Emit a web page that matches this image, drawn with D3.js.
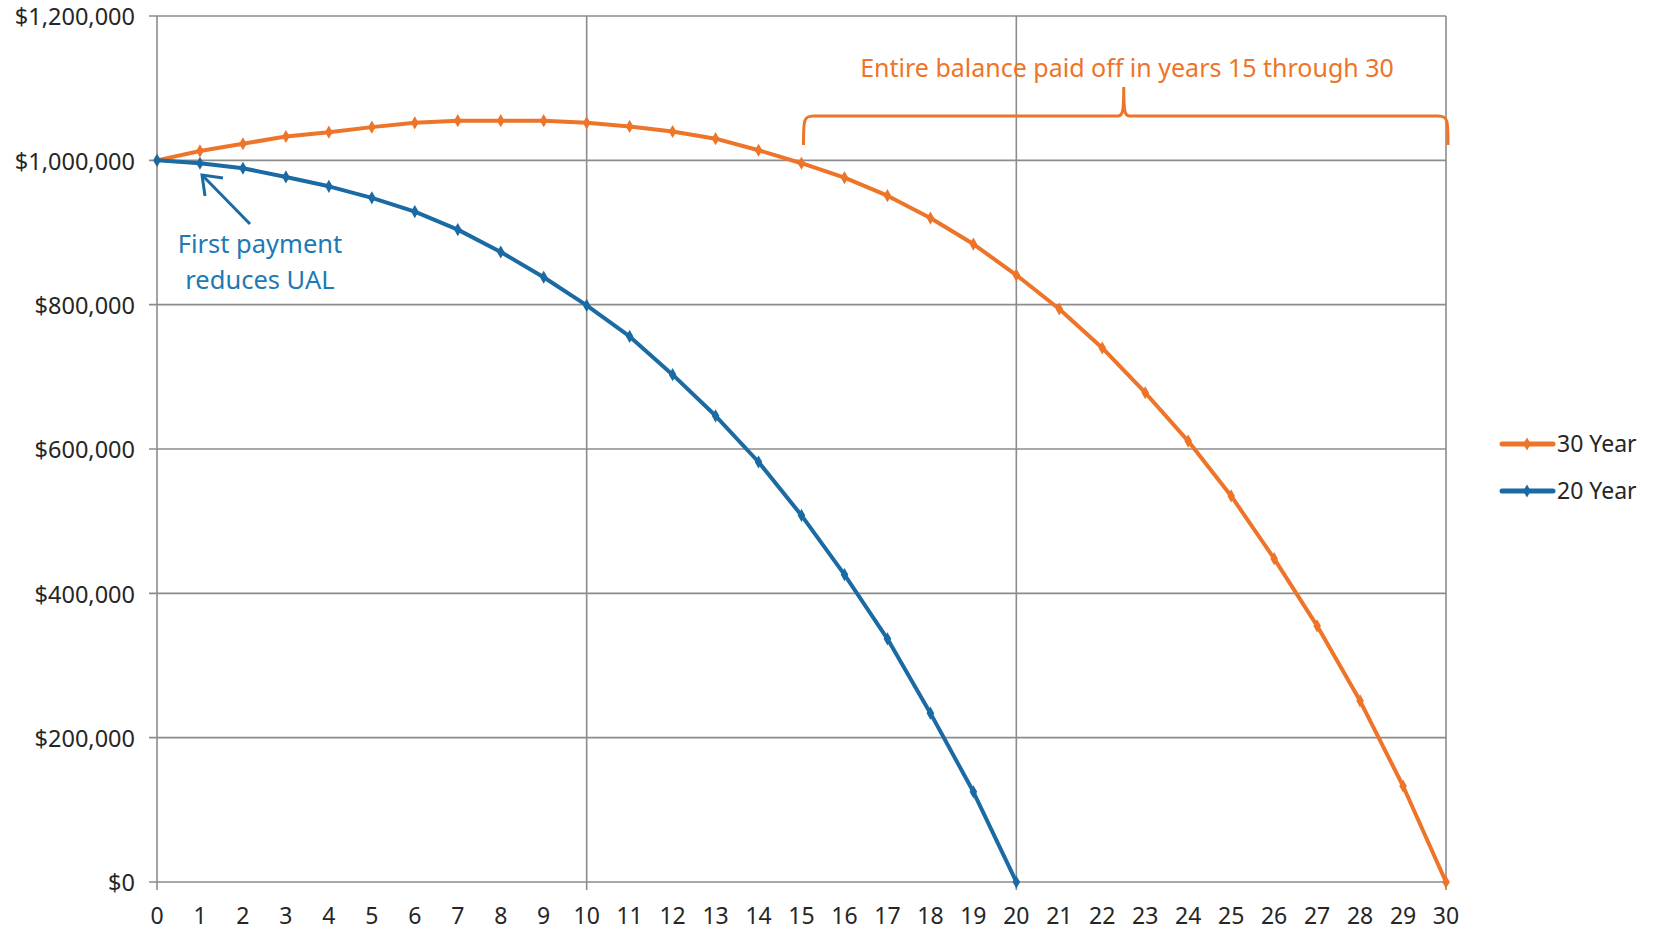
<!DOCTYPE html>
<html>
<head>
<meta charset="utf-8">
<script src="https://cdn.jsdelivr.net/npm/d3@7"></script>
<style>
  html, body { margin: 0; padding: 0; background: #fff; }
  #chart { width: 1657px; height: 931px; }
  text { font-family: "Noto Sans", "Open Sans", sans-serif; }
</style>
</head>
<body>
<div id="chart"></div>
<script>
// ------------------------------------------------------------------ DATA
const years = d3.range(0, 31);
const yTicks = [0, 200000, 400000, 600000, 800000, 1000000, 1200000];
const xGridYears = [10, 20, 30];

const thirtyYear = [
  1000000, 1013000, 1023000, 1033000, 1039000, 1046000, 1052000, 1055000,
  1055000, 1055000, 1052000, 1047000, 1040000, 1030000, 1014000, 996000,
  976000, 951000, 920000, 884000, 841000, 794000, 740000, 678000,
  611000, 535000, 448000, 355000, 251000, 133000, 0
];
const twentyYear = [
  1000000, 996000, 989000, 977000, 964000, 948000, 929000, 904000,
  873000, 838000, 799000, 756000, 703000, 646000, 582000, 508000,
  426000, 337000, 234000, 125000, 0
];

const seriesNames = ['30 Year', '20 Year'];
const seriesColors = ['#ED7428', '#1A6AA3'];

// ------------------------------------------------------------------ LAYOUT
const width = 1657, height = 931;
const margin = { top: 16, right: 211, bottom: 49, left: 157 };

const svg = d3.select('#chart').append('svg')
  .attr('width', width)
  .attr('height', height);

const x = d3.scaleLinear().domain([0, 30]).range([margin.left, width - margin.right]);
const y = d3.scaleLinear().domain([0, 1200000]).range([height - margin.bottom, margin.top]);

const gridColor = '#8c8c8c';
const textColor = '#262626';

// ------------------------------------------------------------------ GRID
svg.append('g')
  .selectAll('line')
  .data(yTicks)
  .join('line')
  .attr('x1', x(0) - 8).attr('x2', x(30))
  .attr('y1', d => y(d)).attr('y2', d => y(d))
  .attr('stroke', gridColor)
  .attr('stroke-width', 1.6);

svg.append('g')
  .selectAll('line')
  .data([0].concat(xGridYears))
  .join('line')
  .attr('x1', d => x(d)).attr('x2', d => x(d))
  .attr('y1', y(1200000)).attr('y2', y(0) + 8)
  .attr('stroke', gridColor)
  .attr('stroke-width', 1.6);

// ------------------------------------------------------------------ AXES LABELS
const yFmt = d => '$' + d3.format(',')(d);
svg.append('g')
  .selectAll('text')
  .data(yTicks)
  .join('text')
  .attr('x', x(0) - 22)
  .attr('y', d => y(d))
  .attr('dy', '0.4em')
  .attr('text-anchor', 'end')
  .attr('font-size', 23.5)
  .attr('fill', textColor)
  .text(yFmt);

svg.append('g')
  .selectAll('text')
  .data(years)
  .join('text')
  .attr('x', d => x(d))
  .attr('y', y(0) + 34)
  .attr('dy', '0.35em')
  .attr('text-anchor', 'middle')
  .attr('font-size', 23)
  .attr('fill', textColor)
  .text(d => d);

// ------------------------------------------------------------------ SERIES
const allSeries = [thirtyYear, twentyYear];
const line = d3.line()
  .x((d, i) => x(i))
  .y(d => y(d));

allSeries.forEach((vals, k) => {
  const g = svg.append('g');
  g.append('path')
    .datum(vals)
    .attr('d', line)
    .attr('fill', 'none')
    .attr('stroke', seriesColors[k])
    .attr('stroke-width', 4)
    .attr('stroke-linejoin', 'round')
    .attr('stroke-linecap', 'round');
  g.selectAll('path.mk')
    .data(vals)
    .join('path')
    .attr('class', 'mk')
    .attr('d', d3.symbol().type(d3.symbolDiamond).size(50))
    .attr('transform', (d, i) => `translate(${x(i)},${y(d)})`)
    .attr('fill', seriesColors[k]);
});

// ------------------------------------------------------------------ LEGEND
const legend = svg.append('g');
seriesNames.forEach((name, k) => {
  const ly = 444 + k * 47;
  legend.append('line')
    .attr('x1', 1502).attr('x2', 1553)
    .attr('y1', ly).attr('y2', ly)
    .attr('stroke', seriesColors[k])
    .attr('stroke-width', 5)
    .attr('stroke-linecap', 'round');
  legend.append('path')
    .attr('d', d3.symbol().type(d3.symbolDiamond).size(50))
    .attr('transform', `translate(${1527},${ly})`)
    .attr('fill', seriesColors[k]);
  legend.append('text')
    .attr('x', 1557)
    .attr('y', ly)
    .attr('dy', '0.35em')
    .attr('font-size', 23)
    .attr('fill', textColor)
    .text(name);
});

// ------------------------------------------------------------------ ANNOTATIONS
// brace over years 15-30
const braceY = 116, braceTop = 87, braceBot = 145;
const bx0 = x(15) + 2, bx1 = x(30) + 2, bxm = x(22.5);
const orange = seriesColors[0], blue = seriesColors[1];
svg.append('path')
  .attr('d', `M${bx0},${braceBot} C${bx0},${braceY + 4} ${bx0},${braceY} ${bx0 + 10},${braceY}
              L${bxm - 6},${braceY} C${bxm - 1},${braceY} ${bxm},${braceY - 4} ${bxm},${braceTop}
              C${bxm},${braceY - 4} ${bxm + 1},${braceY} ${bxm + 6},${braceY}
              L${bx1 - 10},${braceY} C${bx1},${braceY} ${bx1},${braceY + 4} ${bx1},${braceBot}`)
  .attr('fill', 'none')
  .attr('stroke', orange)
  .attr('stroke-width', 3);

svg.append('text')
  .attr('x', 1127)
  .attr('y', 68)
  .attr('dy', '0.35em')
  .attr('text-anchor', 'middle')
  .attr('font-size', 25)
  .attr('fill', orange)
  .text('Entire balance paid off in years 15  through 30');

// arrow for first payment
svg.append('line')
  .attr('x1', 250).attr('y1', 224)
  .attr('x2', 203).attr('y2', 176)
  .attr('stroke', blue)
  .attr('stroke-width', 3);
svg.append('path')
  .attr('d', 'M205,196 L202,175 L223,178')
  .attr('fill', 'none')
  .attr('stroke', blue)
  .attr('stroke-width', 3)
  .attr('stroke-linejoin', 'miter');

svg.append('g')
  .selectAll('text')
  .data(['First payment', 'reduces UAL'])
  .join('text')
  .attr('x', 260)
  .attr('y', (d, i) => 244 + i * 36)
  .attr('dy', '0.35em')
  .attr('text-anchor', 'middle')
  .attr('font-size', 25.5)
  .attr('fill', '#2079B5')
  .text(d => d);
</script>
</body>
</html>
